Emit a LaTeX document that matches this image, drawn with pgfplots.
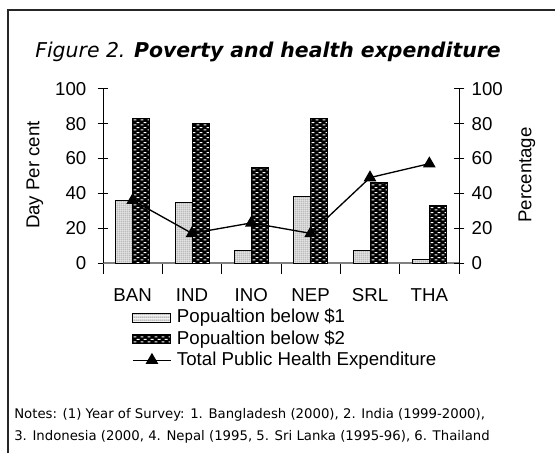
\documentclass[border=0pt]{standalone}
\usepackage{fontspec}
\setmainfont{Liberation Sans}
\newfontfamily\verd{DejaVu Sans}
\usepackage{pgfplots}
\usepackage{pgfplotstable}
\pgfplotsset{compat=1.18}
\usetikzlibrary{patterns}

% light bars: fine grey dots on white
\pgfdeclarepatternformonly{finedots}{\pgfqpoint{0pt}{0pt}}{\pgfqpoint{1.8pt}{1.8pt}}{\pgfqpoint{1.8pt}{1.8pt}}{%
  \pgfpathrectangle{\pgfqpoint{0.3pt}{0.3pt}}{\pgfqpoint{0.9pt}{0.9pt}}%
  \pgfusepath{fill}}
% dark bars: staggered white dashes on black
\pgfdeclarepatternformonly{dashbrick}{\pgfqpoint{0pt}{0pt}}{\pgfqpoint{5pt}{3.6pt}}{\pgfqpoint{5pt}{3.6pt}}{%
  \pgfpathrectangle{\pgfqpoint{0.4pt}{0.5pt}}{\pgfqpoint{2.2pt}{0.8pt}}%
  \pgfpathrectangle{\pgfqpoint{2.9pt}{2.3pt}}{\pgfqpoint{2.2pt}{0.8pt}}%
  \pgfusepath{fill}}

\pgfplotstableread{
x p1 p2 the
0 36 83 36
1 35 80 17
2 7  55 23
3 38 83 17
4 7  46 49
5 2  33 57
}\povdata

\pgfplotsset{
  barone/.style={draw=black, line width=0.7pt, fill=gray!10,
    postaction={pattern=finedots, pattern color=black!55}},
  bartwo/.style={draw=black, line width=0.7pt, fill=black,
    postaction={pattern=dashbrick, pattern color=white}},
  boxlegend/.style={legend image code/.code={%
    \draw[##1] (0pt,-3.4pt) rectangle (28.5pt,3.4pt);}},
  linelegend/.style={legend image code/.code={%
    \draw[mark repeat=2, mark phase=2, ##1] plot coordinates {(0pt,0pt) (14.25pt,0pt) (28.5pt,0pt)};}},
  common/.style={
    at={(O)}, anchor=south west,
    scale only axis, width=267pt, height=130.7pt,
    xmin=-0.5, xmax=5.5, ymin=0, ymax=100,
    ytick={0,20,...,100},
    tick align=center, major tick length=8pt,
    tick style={black, line width=0.6pt},
    /pgf/number format/assume math mode=true,
    tick label style={font=\fontsize{14}{16}\selectfont},
  },
}

\begin{document}
\begin{tikzpicture}[x=0.75pt,y=0.75pt]
\useasboundingbox (0,0) rectangle (555,453);
\draw[line width=1.1pt, black!85] (8,0) -- (8,443) -- (555,443);
\coordinate (O) at (103,190);

\node at (268,401) {\verd\fontsize{15.3}{18}\selectfont\itshape Figure 2. \bfseries Poverty and health expenditure};

\begin{axis}[common,
    axis x line*=bottom, axis y line*=left,
    x axis line style={gray, line width=1.2pt},
    y axis line style={black, line width=0.6pt},
    ybar=0pt, bar width=12.75pt,
    xtick={0,...,5}, xticklabels={BAN,IND,INO,NEP,SRL,THA},
    major x tick style={draw=none},
    minor xtick={-0.5,0.5,...,5.5},
    minor tick length=8pt,
    xticklabel style={yshift=-7.5pt},
    yticklabel style={xshift=-5pt},
  ]
  \addplot[barone] table[x=x,y=p1]{\povdata};
  \addplot[bartwo] table[x=x,y=p2]{\povdata};
\end{axis}

\begin{axis}[common,
    axis y line*=right, axis x line=none,
    yticklabel style={xshift=2pt},
    legend style={at={(axis description cs:0.0815,-0.25)}, anchor=north west,
      draw=none, fill=none, inner sep=0pt, row sep=0pt,
      font=\fontsize{14}{16}\selectfont,
      nodes={inner sep=1pt, text height=11pt, text depth=3pt},
      /tikz/every odd column/.append style={column sep=3pt}},
    legend cell align=left,
  ]
  \addlegendimage{barone, boxlegend}
  \addlegendimage{bartwo, boxlegend}
  \addplot[black, line width=1pt, mark=triangle*, mark size=4.5pt, linelegend]
    table[x=x,y=the]{\povdata};
  \legend{Popualtion below \$1, Popualtion below \$2, Total Public Health Expenditure}
\end{axis}

\node[rotate=90, font=\fontsize{14}{16}\selectfont] at (35,278) {Day Per cent};
\node[rotate=90, font=\fontsize{14}{16}\selectfont] at (527,278) {Percentage};

\node[anchor=west, inner sep=0pt, font=\verd\fontsize{9.95}{12}\selectfont] at (14,38)
  {Notes: (1) Year of Survey: 1. Bangladesh (2000), 2. India (1999-2000),};
\node[anchor=west, inner sep=0pt, font=\verd\fontsize{9.95}{12}\selectfont] at (14,16)
  {3. Indonesia (2000, 4. Nepal (1995, 5. Sri Lanka (1995-96), 6. Thailand};
\end{tikzpicture}
\end{document}
